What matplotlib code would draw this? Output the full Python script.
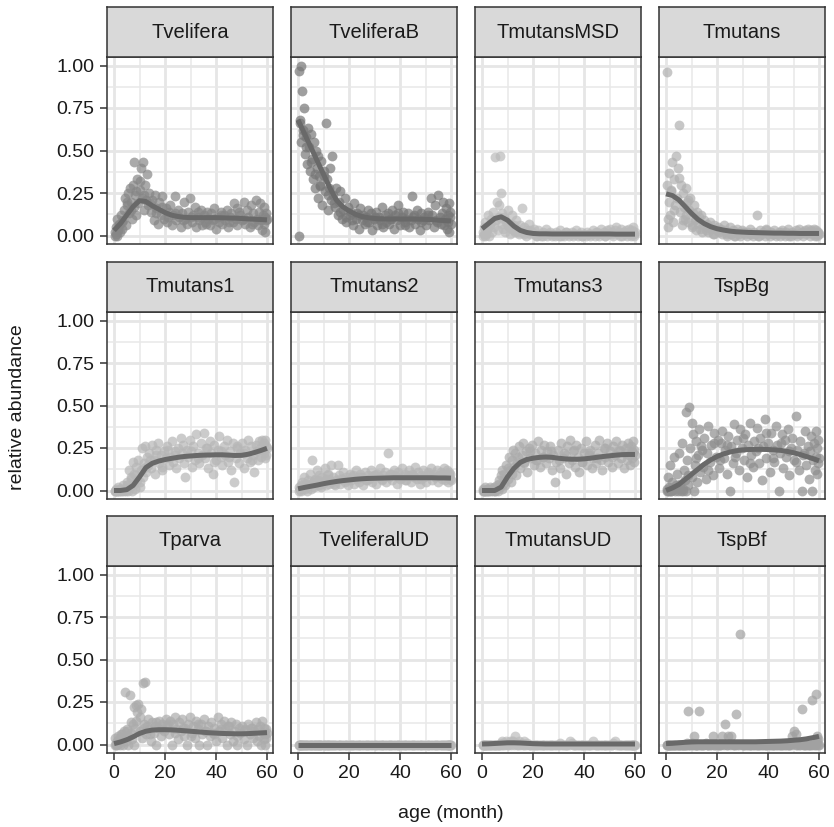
import matplotlib
matplotlib.use('Agg')
import matplotlib.pyplot as plt
import numpy as np

plt.rcParams['font.family'] = ['Liberation Sans', 'DejaVu Sans']

# sample ages (month), shared by all panels
age = [
    0.2, 0.5, 0.8, 1.0, 1.3, 1.6, 2.0, 2.4, 2.8, 3.1, 3.5, 3.9,
    4.2, 4.6, 5.0, 5.4, 5.8, 6.1, 6.5, 6.9, 7.3, 7.7, 8.0, 8.4,
    8.8, 9.2, 9.6, 10.0, 10.4, 10.8, 11.2, 11.6, 12.0, 12.4, 12.9, 13.4,
    13.9, 14.4, 14.9, 15.5, 16.0, 16.6, 17.2, 17.8, 18.4, 19.0, 19.6, 20.2,
    20.8, 21.4, 22.0, 22.6, 23.2, 23.8, 24.4, 25.0, 25.6, 26.2, 26.8, 27.4,
    28.0, 28.6, 29.2, 29.8, 30.4, 31.0, 31.6, 32.2, 32.8, 33.4, 34.0, 34.6,
    35.2, 35.8, 36.4, 37.0, 37.6, 38.2, 38.8, 39.4, 40.0, 40.6, 41.2, 41.8,
    42.4, 43.0, 43.6, 44.2, 44.8, 45.4, 46.0, 46.6, 47.2, 47.8, 48.4, 49.0,
    49.6, 50.2, 50.8, 51.4, 52.0, 52.6, 53.2, 53.8, 54.4, 55.0, 55.6, 56.2,
    56.6, 57.0, 57.4, 57.8, 58.1, 58.4, 58.7, 59.0, 59.2, 59.4, 59.6, 59.8,
    0.6, 1.8, 3.3, 5.2, 6.7, 8.6, 10.2, 11.8, 14.1, 16.3, 18.7, 21.1,
    24.1, 27.1, 30.1, 33.1, 36.1, 39.1, 42.1, 45.1, 48.1, 51.1, 54.1, 60.0,
]

tvelifera = [
    0.00, 0.02, 0.05, 0.00, 0.10, 0.03, 0.07, 0.02, 0.12, 0.04, 0.09, 0.15,
    0.22, 0.06, 0.18, 0.25, 0.13, 0.28, 0.20, 0.10, 0.30, 0.17, 0.43, 0.24,
    0.12, 0.33, 0.19, 0.27, 0.40, 0.22, 0.43, 0.15, 0.30, 0.21, 0.36, 0.18,
    0.25, 0.14, 0.21, 0.09, 0.24, 0.16, 0.07, 0.20, 0.12, 0.23, 0.10, 0.16,
    0.08, 0.14, 0.18, 0.06, 0.12, 0.23, 0.09, 0.15, 0.11, 0.05, 0.13, 0.20,
    0.10, 0.07, 0.14, 0.22, 0.08, 0.12, 0.17, 0.05, 0.11, 0.09, 0.15, 0.06,
    0.12, 0.08, 0.14, 0.10, 0.06, 0.13, 0.09, 0.16, 0.04, 0.11, 0.08, 0.14,
    0.07, 0.12, 0.09, 0.15, 0.05, 0.11, 0.13, 0.08, 0.19, 0.10, 0.06, 0.14,
    0.12, 0.09, 0.20, 0.07, 0.15, 0.11, 0.05, 0.18, 0.13, 0.08, 0.21, 0.10,
    0.06, 0.14, 0.19, 0.09, 0.03, 0.12, 0.17, 0.07, 0.11, 0.02, 0.13, 0.09,
    0.01, 0.06, 0.08, 0.20, 0.15, 0.26, 0.32, 0.24, 0.19, 0.13, 0.17, 0.11,
    0.13, 0.09, 0.11, 0.14, 0.07, 0.10, 0.12, 0.08, 0.16, 0.10, 0.07, 0.10,
]

tveliferaB = [
    0.00, 0.97, 0.66, 1.00, 0.55, 0.85, 0.62, 0.75, 0.48, 0.58, 0.42, 0.63,
    0.52, 0.38, 0.60, 0.45, 0.33, 0.55, 0.28, 0.50, 0.40, 0.22, 0.47, 0.35,
    0.30, 0.44, 0.18, 0.38, 0.26, 0.66, 0.33, 0.15, 0.28, 0.40, 0.21, 0.47,
    0.24, 0.17, 0.28, 0.12, 0.20, 0.26, 0.10, 0.15, 0.22, 0.08, 0.17, 0.12,
    0.14, 0.06, 0.19, 0.10, 0.13, 0.04, 0.16, 0.09, 0.12, 0.07, 0.11, 0.15,
    0.08, 0.13, 0.03, 0.10, 0.14, 0.06, 0.11, 0.09, 0.17, 0.05, 0.12, 0.08,
    0.13, 0.07, 0.10, 0.15, 0.04, 0.12, 0.09, 0.18, 0.06, 0.11, 0.14, 0.08,
    0.10, 0.13, 0.05, 0.09, 0.23, 0.12, 0.07, 0.15, 0.10, 0.03, 0.13, 0.09,
    0.11, 0.06, 0.14, 0.09, 0.22, 0.12, 0.05, 0.18, 0.08, 0.24, 0.11, 0.07,
    0.13, 0.20, 0.06, 0.10, 0.16, 0.04, 0.12, 0.08, 0.19, 0.02, 0.11, 0.14,
    0.68, 0.59, 0.52, 0.43, 0.36, 0.29, 0.35, 0.24, 0.19, 0.14, 0.11, 0.09,
    0.12, 0.08, 0.11, 0.07, 0.10, 0.13, 0.06, 0.11, 0.08, 0.12, 0.09, 0.07,
]

tmutansMSD = [
    0.00, 0.02, 0.05, 0.00, 0.08, 0.01, 0.03, 0.12, 0.00, 0.06, 0.10, 0.02,
    0.14, 0.05, 0.46, 0.09, 0.20, 0.03, 0.11, 0.47, 0.25, 0.07, 0.13, 0.04,
    0.10, 0.02, 0.08, 0.15, 0.05, 0.01, 0.07, 0.12, 0.03, 0.06, 0.02, 0.09,
    0.04, 0.01, 0.06, 0.16, 0.02, 0.05, 0.00, 0.03, 0.07, 0.01, 0.02, 0.04,
    0.01, 0.00, 0.03, 0.01, 0.00, 0.02, 0.01, 0.04, 0.00, 0.01, 0.02, 0.00,
    0.01, 0.00, 0.02, 0.01, 0.03, 0.00, 0.01, 0.00, 0.02, 0.01, 0.00, 0.01,
    0.02, 0.00, 0.01, 0.03, 0.00, 0.01, 0.02, 0.00, 0.01, 0.00, 0.02, 0.01,
    0.00, 0.01, 0.03, 0.00, 0.02, 0.01, 0.00, 0.04, 0.01, 0.02, 0.00, 0.03,
    0.01, 0.04, 0.02, 0.00, 0.03, 0.05, 0.01, 0.02, 0.04, 0.00, 0.02, 0.01,
    0.03, 0.00, 0.02, 0.04, 0.01, 0.00, 0.03, 0.01, 0.05, 0.02, 0.00, 0.01,
    0.01, 0.04, 0.07, 0.09, 0.18, 0.11, 0.06, 0.04, 0.02, 0.01, 0.03, 0.00,
    0.00, 0.01, 0.00, 0.02, 0.01, 0.00, 0.01, 0.02, 0.00, 0.01, 0.00, 0.02,
]

tmutans = [
    0.96, 0.30, 0.05, 0.20, 0.37, 0.12, 0.27, 0.43, 0.08, 0.33, 0.18, 0.47,
    0.22, 0.40, 0.65, 0.14, 0.30, 0.06, 0.25, 0.17, 0.10, 0.28, 0.12, 0.20,
    0.08, 0.15, 0.22, 0.05, 0.13, 0.18, 0.09, 0.03, 0.14, 0.07, 0.11, 0.04,
    0.12, 0.06, 0.09, 0.03, 0.07, 0.02, 0.08, 0.04, 0.01, 0.06, 0.03, 0.05,
    0.02, 0.04, 0.01, 0.06, 0.03, 0.00, 0.02, 0.05, 0.01, 0.03, 0.00, 0.02,
    0.04, 0.01, 0.00, 0.03, 0.02, 0.01, 0.00, 0.02, 0.04, 0.01, 0.00, 0.02,
    0.01, 0.12, 0.00, 0.03, 0.01, 0.02, 0.00, 0.04, 0.01, 0.00, 0.02, 0.01,
    0.03, 0.00, 0.01, 0.02, 0.00, 0.03, 0.01, 0.00, 0.02, 0.04, 0.01, 0.00,
    0.02, 0.01, 0.03, 0.00, 0.04, 0.01, 0.02, 0.00, 0.03, 0.01, 0.04, 0.02,
    0.00, 0.03, 0.01, 0.02, 0.04, 0.00, 0.01, 0.03, 0.02, 0.00, 0.01, 0.02,
    0.10, 0.26, 0.15, 0.34, 0.09, 0.21, 0.06, 0.10, 0.02, 0.05, 0.01, 0.03,
    0.01, 0.00, 0.02, 0.01, 0.00, 0.03, 0.01, 0.02, 0.00, 0.01, 0.02, 0.01,
]

tmutans1 = [
    0.00, 0.00, 0.01, 0.00, 0.00, 0.02, 0.00, 0.01, 0.00, 0.00, 0.03, 0.00,
    0.01, 0.00, 0.05, 0.00, 0.12, 0.02, 0.08, 0.00, 0.17, 0.04, 0.10, 0.01,
    0.14, 0.06, 0.18, 0.02, 0.12, 0.25, 0.08, 0.16, 0.26, 0.11, 0.20, 0.15,
    0.22, 0.13, 0.27, 0.18, 0.10, 0.24, 0.28, 0.16, 0.21, 0.12, 0.23, 0.19,
    0.26, 0.15, 0.20, 0.29, 0.17, 0.23, 0.13, 0.25, 0.19, 0.31, 0.22, 0.16,
    0.08, 0.24, 0.20, 0.30, 0.14, 0.26, 0.18, 0.33, 0.22, 0.16, 0.28, 0.21,
    0.34, 0.19, 0.25, 0.13, 0.29, 0.22, 0.10, 0.27, 0.18, 0.24, 0.32, 0.20,
    0.15, 0.26, 0.21, 0.30, 0.17, 0.23, 0.12, 0.28, 0.05, 0.19, 0.25, 0.16,
    0.22, 0.28, 0.13, 0.24, 0.19, 0.30, 0.17, 0.26, 0.21, 0.11, 0.27, 0.23,
    0.18, 0.29, 0.25, 0.20, 0.30, 0.24, 0.28, 0.22, 0.19, 0.30, 0.26, 0.21,
    0.00, 0.00, 0.01, 0.03, 0.07, 0.09, 0.05, 0.13, 0.18, 0.21, 0.14, 0.24,
    0.21, 0.27, 0.23, 0.19, 0.25, 0.17, 0.23, 0.20, 0.26, 0.22, 0.18, 0.25,
]

tmutans2 = [
    0.00, 0.02, 0.01, 0.03, 0.00, 0.05, 0.02, 0.08, 0.01, 0.04, 0.00, 0.06,
    0.03, 0.10, 0.01, 0.18, 0.05, 0.02, 0.07, 0.04, 0.12, 0.03, 0.06, 0.09,
    0.04, 0.02, 0.08, 0.05, 0.13, 0.03, 0.07, 0.10, 0.04, 0.06, 0.15, 0.05,
    0.08, 0.03, 0.06, 0.15, 0.09, 0.04, 0.07, 0.11, 0.05, 0.08, 0.03, 0.10,
    0.06, 0.09, 0.04, 0.12, 0.07, 0.05, 0.10, 0.08, 0.03, 0.11, 0.06, 0.09,
    0.07, 0.12, 0.05, 0.09, 0.04, 0.10, 0.08, 0.13, 0.06, 0.09, 0.11, 0.05,
    0.22, 0.08, 0.10, 0.06, 0.12, 0.09, 0.04, 0.11, 0.07, 0.13, 0.08, 0.10,
    0.06, 0.09, 0.12, 0.05, 0.10, 0.08, 0.14, 0.07, 0.11, 0.04, 0.09, 0.12,
    0.08, 0.05, 0.11, 0.09, 0.13, 0.06, 0.10, 0.08, 0.12, 0.05, 0.09, 0.11,
    0.07, 0.10, 0.13, 0.06, 0.09, 0.12, 0.08, 0.05, 0.11, 0.09, 0.07, 0.10,
    0.01, 0.03, 0.02, 0.04, 0.06, 0.03, 0.05, 0.09, 0.04, 0.07, 0.06, 0.08,
    0.08, 0.06, 0.09, 0.07, 0.10, 0.08, 0.06, 0.09, 0.07, 0.10, 0.08, 0.06,
]

tmutans3 = [
    0.00, 0.01, 0.00, 0.00, 0.02, 0.00, 0.01, 0.00, 0.00, 0.02, 0.00, 0.01,
    0.00, 0.02, 0.00, 0.01, 0.03, 0.00, 0.06, 0.02, 0.09, 0.01, 0.12, 0.04,
    0.10, 0.03, 0.15, 0.07, 0.20, 0.12, 0.05, 0.18, 0.24, 0.14, 0.22, 0.09,
    0.17, 0.26, 0.13, 0.21, 0.28, 0.16, 0.23, 0.11, 0.25, 0.19, 0.27, 0.15,
    0.22, 0.18, 0.29, 0.14, 0.24, 0.20, 0.27, 0.16, 0.23, 0.19, 0.26, 0.12,
    0.21, 0.05, 0.17, 0.24, 0.13, 0.28, 0.19, 0.22, 0.10, 0.26, 0.16, 0.30,
    0.18, 0.23, 0.14, 0.27, 0.20, 0.11, 0.25, 0.17, 0.22, 0.29, 0.15, 0.21,
    0.24, 0.13, 0.19, 0.27, 0.16, 0.22, 0.30, 0.18, 0.12, 0.25, 0.20, 0.28,
    0.17, 0.23, 0.14, 0.26, 0.21, 0.29, 0.16, 0.24, 0.19, 0.27, 0.13, 0.22,
    0.25, 0.18, 0.28, 0.21, 0.15, 0.26, 0.23, 0.19, 0.29, 0.22, 0.17, 0.24,
    0.00, 0.00, 0.01, 0.00, 0.04, 0.07, 0.13, 0.10, 0.20, 0.17, 0.23, 0.18,
    0.20, 0.23, 0.18, 0.21, 0.24, 0.17, 0.22, 0.19, 0.25, 0.20, 0.23, 0.21,
]

tspBg = [
    0.00, 0.01, 0.08, 0.00, 0.02, 0.15, 0.00, 0.05, 0.01, 0.20, 0.00, 0.03,
    0.10, 0.00, 0.22, 0.04, 0.00, 0.28, 0.01, 0.12, 0.06, 0.00, 0.46, 0.18,
    0.03, 0.49, 0.25, 0.08, 0.33, 0.00, 0.15, 0.29, 0.05, 0.21, 0.36, 0.11,
    0.26, 0.14, 0.31, 0.07, 0.22, 0.38, 0.17, 0.27, 0.09, 0.34, 0.20, 0.30,
    0.13, 0.28, 0.35, 0.19, 0.24, 0.10, 0.32, 0.00, 0.26, 0.16, 0.39, 0.22,
    0.30, 0.12, 0.36, 0.25, 0.18, 0.33, 0.08, 0.27, 0.40, 0.21, 0.14, 0.29,
    0.23, 0.37, 0.16, 0.31, 0.06, 0.26, 0.42, 0.19, 0.28, 0.11, 0.34, 0.24,
    0.17, 0.38, 0.27, 0.00, 0.22, 0.33, 0.13, 0.30, 0.20, 0.36, 0.09, 0.25,
    0.31, 0.18, 0.44, 0.24, 0.12, 0.29, 0.00, 0.21, 0.35, 0.15, 0.26, 0.07,
    0.23, 0.32, 0.00, 0.18, 0.28, 0.12, 0.35, 0.20, 0.25, 0.10, 0.30, 0.16,
    0.00, 0.00, 0.01, 0.02, 0.00, 0.09, 0.40, 0.19, 0.24, 0.12, 0.28, 0.18,
    0.27, 0.20, 0.31, 0.16, 0.25, 0.34, 0.19, 0.28, 0.23, 0.17, 0.22, 0.19,
]

tparva = [
    0.00, 0.04, 0.00, 0.02, 0.00, 0.05, 0.01, 0.00, 0.06, 0.03, 0.00, 0.08,
    0.31, 0.02, 0.09, 0.00, 0.05, 0.29, 0.07, 0.03, 0.12, 0.00, 0.22, 0.10,
    0.14, 0.19, 0.24, 0.08, 0.21, 0.04, 0.36, 0.12, 0.37, 0.06, 0.11, 0.15,
    0.09, 0.02, 0.13, 0.07, 0.11, 0.00, 0.10, 0.14, 0.05, 0.12, 0.08, 0.15,
    0.11, 0.06, 0.14, 0.00, 0.12, 0.16, 0.09, 0.03, 0.13, 0.08, 0.15, 0.05,
    0.10, 0.00, 0.12, 0.16, 0.07, 0.11, 0.04, 0.14, 0.09, 0.00, 0.12, 0.06,
    0.15, 0.08, 0.00, 0.11, 0.05, 0.13, 0.07, 0.10, 0.02, 0.16, 0.08, 0.12,
    0.04, 0.14, 0.09, 0.00, 0.11, 0.06, 0.13, 0.02, 0.08, 0.12, 0.00, 0.10,
    0.07, 0.11, 0.03, 0.09, 0.00, 0.12, 0.06, 0.10, 0.04, 0.08, 0.13, 0.02,
    0.09, 0.05, 0.11, 0.00, 0.14, 0.07, 0.03, 0.10, 0.06, 0.00, 0.09, 0.04,
    0.01, 0.03, 0.06, 0.08, 0.13, 0.23, 0.16, 0.10, 0.06, 0.13, 0.09, 0.12,
    0.07, 0.10, 0.05, 0.12, 0.08, 0.06, 0.09, 0.11, 0.05, 0.08, 0.10, 0.07,
]

tveliferalUD = [
    0, 0, 0, 0, 0, 0, 0, 0, 0, 0, 0, 0,
    0, 0, 0, 0, 0, 0, 0, 0, 0, 0, 0, 0,
    0, 0, 0, 0, 0, 0, 0, 0, 0, 0, 0, 0,
    0, 0, 0, 0, 0, 0, 0, 0, 0, 0, 0, 0,
    0, 0, 0, 0, 0, 0, 0, 0, 0, 0, 0, 0,
    0, 0, 0, 0, 0, 0, 0, 0, 0, 0, 0, 0,
    0, 0, 0, 0, 0, 0, 0, 0, 0, 0, 0, 0,
    0, 0, 0, 0, 0, 0, 0, 0, 0, 0, 0, 0,
    0, 0, 0, 0, 0, 0, 0, 0, 0, 0, 0, 0,
    0, 0, 0, 0, 0, 0, 0, 0, 0, 0, 0, 0,
    0, 0, 0, 0, 0, 0, 0, 0, 0, 0, 0, 0,
    0, 0, 0, 0, 0, 0, 0, 0, 0, 0, 0, 0,
]

tmutansUD = [
    0, 0, 0, 0, 0, 0, 0, 0, 0, 0, 0, 0,
    0, 0, 0, 0, 0, 0, 0, 0, 0.01, 0, 0.02, 0,
    0.01, 0, 0.02, 0, 0.01, 0.02, 0, 0.01, 0.02, 0, 0.05, 0.01,
    0, 0.02, 0, 0.01, 0, 0.02, 0, 0.01, 0, 0, 0, 0,
    0, 0, 0, 0, 0, 0, 0, 0, 0, 0, 0, 0,
    0, 0, 0, 0, 0.01, 0, 0, 0, 0, 0, 0, 0.02,
    0.01, 0, 0, 0, 0, 0, 0, 0, 0, 0, 0, 0,
    0, 0, 0.02, 0, 0, 0, 0, 0, 0, 0, 0, 0,
    0, 0, 0, 0.01, 0.02, 0, 0, 0, 0, 0, 0, 0,
    0, 0, 0, 0, 0, 0, 0, 0, 0, 0, 0, 0,
    0, 0, 0, 0, 0, 0.01, 0, 0.02, 0, 0, 0, 0,
    0, 0, 0, 0, 0, 0, 0, 0, 0, 0, 0, 0,
]

tspBf = [
    0, 0, 0, 0, 0, 0, 0, 0, 0, 0, 0, 0,
    0, 0, 0, 0, 0, 0, 0, 0, 0, 0, 0, 0.01,
    0.20, 0, 0, 0.01, 0, 0.05, 0, 0, 0, 0, 0.20, 0,
    0, 0, 0, 0.01, 0, 0, 0, 0, 0.05, 0, 0, 0,
    0, 0, 0.05, 0, 0.12, 0, 0.05, 0, 0.05, 0, 0, 0.18,
    0, 0, 0.65, 0, 0, 0, 0, 0, 0, 0, 0, 0,
    0, 0, 0, 0, 0, 0, 0, 0, 0, 0, 0, 0,
    0, 0, 0, 0, 0, 0, 0, 0, 0, 0, 0, 0,
    0.05, 0.08, 0, 0, 0, 0, 0.21, 0, 0, 0, 0, 0,
    0, 0, 0.26, 0, 0.01, 0, 0, 0.30, 0.05, 0.02, 0, 0.03,
    0, 0, 0, 0, 0, 0, 0, 0, 0, 0, 0, 0,
    0, 0, 0, 0, 0, 0, 0, 0, 0, 0.06, 0, 0,
]

# fitted smooth curves, read at these ages
smooth_age = [0, 2.5, 5, 7.5, 10, 12.5, 15, 17.5, 20, 22.5, 25, 27.5, 30,
              32.5, 35, 37.5, 40, 42.5, 45, 47.5, 50, 52.5, 55, 57.5, 60]
fit_tvelifera = [0.03, 0.07, 0.12, 0.17, 0.205, 0.20, 0.175, 0.155, 0.135, 0.12, 0.112, 0.107, 0.105,
                 0.105, 0.105, 0.105, 0.105, 0.104, 0.103, 0.102, 0.10, 0.098, 0.096, 0.094, 0.092]
fit_tveliferaB = [0.68, 0.60, 0.52, 0.44, 0.36, 0.28, 0.21, 0.17, 0.145, 0.125, 0.112, 0.105, 0.10,
                  0.098, 0.097, 0.097, 0.097, 0.097, 0.097, 0.096, 0.095, 0.093, 0.09, 0.088, 0.085]
fit_tmutansMSD = [0.04, 0.07, 0.10, 0.11, 0.09, 0.055, 0.03, 0.018, 0.012, 0.01, 0.01, 0.009, 0.009,
                  0.009, 0.009, 0.009, 0.009, 0.009, 0.009, 0.009, 0.009, 0.008, 0.008, 0.008, 0.008]
fit_tmutans = [0.245, 0.235, 0.21, 0.17, 0.13, 0.095, 0.07, 0.052, 0.04, 0.032, 0.026, 0.022, 0.02,
               0.018, 0.017, 0.016, 0.015, 0.014, 0.014, 0.013, 0.013, 0.012, 0.012, 0.012, 0.012]
fit_tmutans1 = [0.0, 0.0, 0.005, 0.03, 0.08, 0.135, 0.16, 0.173, 0.182, 0.189, 0.195, 0.20, 0.203,
                0.206, 0.208, 0.209, 0.21, 0.21, 0.208, 0.206, 0.207, 0.213, 0.223, 0.235, 0.248]
fit_tmutans2 = [0.01, 0.018, 0.025, 0.032, 0.04, 0.047, 0.053, 0.058, 0.062, 0.066, 0.069, 0.071, 0.072,
                0.073, 0.074, 0.075, 0.075, 0.075, 0.075, 0.075, 0.075, 0.075, 0.074, 0.074, 0.073]
fit_tmutans3 = [0.0, 0.0, 0.0, 0.02, 0.08, 0.13, 0.165, 0.182, 0.19, 0.195, 0.197, 0.195, 0.19,
                0.186, 0.184, 0.184, 0.186, 0.19, 0.195, 0.20, 0.204, 0.208, 0.211, 0.212, 0.212]
fit_tspBg = [0.0, 0.015, 0.035, 0.065, 0.095, 0.125, 0.155, 0.18, 0.20, 0.215, 0.226, 0.234, 0.239,
             0.241, 0.242, 0.242, 0.241, 0.239, 0.236, 0.23, 0.222, 0.212, 0.20, 0.188, 0.175]
fit_tparva = [0.005, 0.015, 0.028, 0.045, 0.065, 0.078, 0.085, 0.087, 0.087, 0.086, 0.084, 0.081, 0.078,
              0.075, 0.072, 0.069, 0.067, 0.065, 0.064, 0.063, 0.063, 0.064, 0.066, 0.068, 0.07]
fit_tveliferalUD = [0, 0, 0, 0, 0, 0, 0, 0, 0, 0, 0, 0, 0,
                    0, 0, 0, 0, 0, 0, 0, 0, 0, 0, 0, 0]
fit_tmutansUD = [0.003, 0.004, 0.006, 0.008, 0.01, 0.01, 0.009, 0.007, 0.005, 0.004, 0.003, 0.003, 0.003,
                 0.003, 0.003, 0.003, 0.003, 0.003, 0.003, 0.003, 0.003, 0.003, 0.003, 0.003, 0.003]
fit_tspBf = [0.005, 0.007, 0.01, 0.013, 0.015, 0.016, 0.016, 0.016, 0.016, 0.016, 0.016, 0.016, 0.016,
             0.016, 0.016, 0.017, 0.018, 0.019, 0.02, 0.022, 0.025, 0.028, 0.033, 0.04, 0.048]

taxa = ['Tvelifera', 'TveliferaB', 'TmutansMSD', 'Tmutans',
        'Tmutans1', 'Tmutans2', 'Tmutans3', 'TspBg',
        'Tparva', 'TveliferalUD', 'TmutansUD', 'TspBf']
points = [tvelifera, tveliferaB, tmutansMSD, tmutans,
          tmutans1, tmutans2, tmutans3, tspBg,
          tparva, tveliferalUD, tmutansUD, tspBf]
fits = [fit_tvelifera, fit_tveliferaB, fit_tmutansMSD, fit_tmutans,
        fit_tmutans1, fit_tmutans2, fit_tmutans3, fit_tspBg,
        fit_tparva, fit_tveliferalUD, fit_tmutansUD, fit_tspBf]
point_grey = ['#868686', '#777777', '#bababa', '#b0b0b0',
              '#b6b6b6', '#b6b6b6', '#ababab', '#8e8e8e',
              '#ababab', '#b6b6b6', '#bcbcbc', '#a1a1a1']

W, H = 834, 827
col_left = [107, 291, 475, 659]
row_top = [57, 312, 566]
pw, ph, sh = 166, 187, 50
edge = '#333333'

fig = plt.figure(figsize=(W / 100, H / 100), dpi=100)

for i, name in enumerate(taxa):
    r, c = divmod(i, 4)
    ax = fig.add_axes([col_left[c] / W, 1 - (row_top[r] + ph) / H, pw / W, ph / H])
    ax.scatter(age, points[i], s=50, color=point_grey[i], alpha=0.7, linewidths=0, zorder=2)
    ax.plot(smooth_age, fits[i], color='#696969', lw=3.6, solid_capstyle='butt', zorder=3)
    ax.set_xlim(-2.75, 62.35)
    ax.set_ylim(-0.05, 1.05)
    ax.set_xticks([0, 20, 40, 60])
    ax.set_xticks([10, 30, 50], minor=True)
    ax.set_yticks([0, 0.25, 0.5, 0.75, 1.0])
    ax.set_yticks([0.125, 0.375, 0.625, 0.875], minor=True)
    ax.set_yticklabels(['0.00', '0.25', '0.50', '0.75', '1.00'])
    ax.set_axisbelow(True)
    ax.grid(which='major', color='#e6e6e6', lw=2.0)
    ax.grid(which='minor', color='#e8e8e8', lw=1.1)
    ax.tick_params(which='minor', length=0)
    ax.tick_params(which='major', length=5, width=1.1, color=edge, labelsize=14,
                   labelcolor='#1a1a1a', pad=4)
    ax.tick_params(axis='x', bottom=(r == 2), labelbottom=(r == 2))
    ax.tick_params(axis='y', left=(c == 0), labelleft=(c == 0))
    for sp in ax.spines.values():
        sp.set_color(edge)
        sp.set_linewidth(1.1)

    sax = fig.add_axes([col_left[c] / W, 1 - row_top[r] / H, pw / W, sh / H])
    sax.set_facecolor('#d9d9d9')
    sax.set_xticks([])
    sax.set_yticks([])
    for sp in sax.spines.values():
        sp.set_color(edge)
        sp.set_linewidth(1.1)
    sax.text(0.5, 0.5, name, ha='center', va='center', fontsize=14.5,
             color='#1a1a1a', transform=sax.transAxes)

fig.text(451 / W, 1 - 813 / H, 'age (month)', ha='center', va='center', fontsize=14, color='#1a1a1a')
fig.text(18 / W, 1 - 407 / H, 'relative abundance', ha='center', va='center',
         rotation=90, fontsize=14, color='#1a1a1a')

fig.savefig('out.png', dpi=100)
